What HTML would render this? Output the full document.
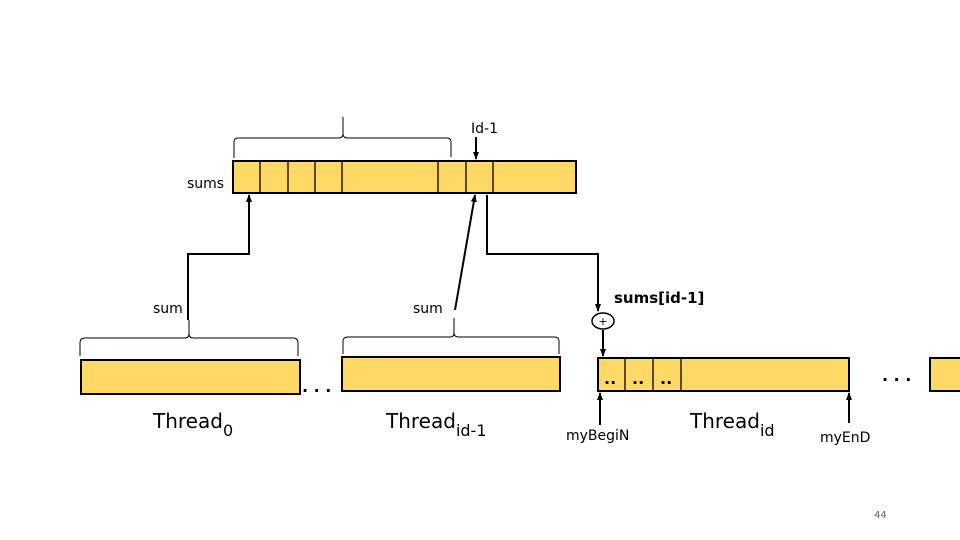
<!DOCTYPE html>
<html><head><style>body{margin:0;background:#fff}svg{display:block}text{font-family:"DejaVu Sans","Liberation Sans",sans-serif}</style></head>
<body>
<svg width="960" height="540" viewBox="0 0 960 540" xmlns="http://www.w3.org/2000/svg">
<defs><marker id="a" markerWidth="8" markerHeight="8" refX="7" refY="4" orient="auto" markerUnits="userSpaceOnUse"><path d="M0,1 L8,4 L0,7z" fill="#000"/></marker></defs>
<g fill="#FFD966" stroke="#000" stroke-width="2">
<rect x="233" y="161" width="343" height="32"/>
<rect x="81" y="360" width="219" height="34"/>
<rect x="342" y="357" width="218" height="34"/>
<rect x="598" y="358" width="251" height="33"/>
<rect x="930" y="358" width="40" height="33"/>
</g>
<g stroke="#000" stroke-width="1.3">
<line x1="260" y1="161" x2="260" y2="193"/><line x1="288" y1="161" x2="288" y2="193"/><line x1="315" y1="161" x2="315" y2="193"/><line x1="342" y1="161" x2="342" y2="193"/><line x1="438" y1="161" x2="438" y2="193"/><line x1="466" y1="161" x2="466" y2="193"/><line x1="493" y1="161" x2="493" y2="193"/>
<line x1="625" y1="358" x2="625" y2="391"/><line x1="653" y1="358" x2="653" y2="391"/><line x1="681" y1="358" x2="681" y2="391"/>
</g>
<g fill="none" stroke="#000" stroke-width="1">
<path d="M234,158 V142 Q234,138 238,138 H338 Q343,138 343,134 V117 M343,134 Q343,138 348,138 H447 Q451,138 451,142 V157"/>
<path d="M80,356 V343 Q80,338 85,338 H185 Q189,338 189,334 V320 M189,334 Q189,338 194,338 H293 Q298,338 298,343 V356"/>
<path d="M343,354 V341 Q343,337 348,337 H450 Q454,337 454,333 V318 M454,333 Q454,337 459,337 H554 Q559,337 559,341 V354"/>
</g>
<g fill="none" stroke="#000" stroke-width="2">
<path d="M188,320 V254 H249 V195" marker-end="url(#a)"/>
<path d="M455,310 L475,195" marker-end="url(#a)"/>
<path d="M487,195 V254 H598 V311" marker-end="url(#a)"/>
<path d="M476,137 V159" marker-end="url(#a)"/>
<path d="M603,330 V356" marker-end="url(#a)"/>
<path d="M600,425 V393" marker-end="url(#a)"/>
<path d="M849,423 V393" marker-end="url(#a)"/>
</g>
<ellipse cx="603" cy="321" rx="11" ry="8" fill="#fff" stroke="#000" stroke-width="1.5"/>
<text x="603" y="325" font-size="11" text-anchor="middle">+</text>
<g font-size="14" fill="#000">
<text x="471" y="133">Id-1</text>
<text x="187" y="188">sums</text>
<text x="153" y="313">sum</text>
<text x="413" y="313">sum</text>
<text x="566" y="440">myBegiN</text>
<text x="820" y="442">myEnD</text>
</g>
<text x="614" y="303" font-family="Liberation Mono,monospace" font-weight="bold" font-size="15">sums[id-1]</text>
<g font-size="20">
<text x="153" y="428">Thread<tspan font-size="16" dy="8">0</tspan></text>
<text x="386" y="428">Thread<tspan font-size="16" dy="8">id-1</tspan></text>
<text x="690" y="428">Thread<tspan font-size="16" dy="8">id</tspan></text>
</g>
<g font-size="16" font-weight="bold">
<text x="302" y="392">. . .</text>
<text x="882" y="381">. . .</text>
<text x="604" y="384">..</text><text x="632" y="384">..</text><text x="660" y="384">..</text>
</g>
<text x="874" y="518" font-size="10" fill="#666">44</text>
</svg>
</body></html>
